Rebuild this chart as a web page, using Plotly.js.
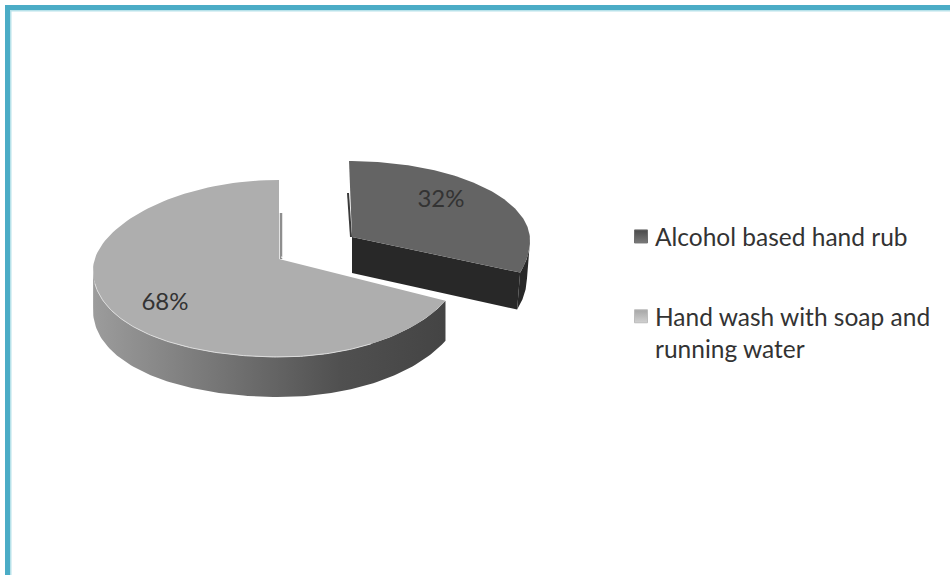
<!DOCTYPE html>
<html>
<head>
<meta charset="utf-8">
<script src="https://cdn.plot.ly/plotly-3.0.1.min.js"></script>
<style>html,body{margin:0;padding:0;background:#fff}#chart{width:950px;height:575px}</style>
</head>
<body>
<div id="chart"></div>
<script>
var categories = ["Alcohol based hand rub", "Hand wash with soap and<br>running water"];
var values = [32, 68];

var FONT = "Lato, Carlito, 'Open Sans', sans-serif";
var TEXT = "#333333";
var total = values[0] + values[1];
var sweep0 = values[0] / total * 360;

function rad(d){ return d * Math.PI / 180; }

/* projected rim of a tilted disc; g = geometry of one slice, theta clockwise from 12 o'clock */
function rim(g, theta){
  var phi = rad(theta * (g.warp || 1));
  var c = Math.cos(phi), s = Math.sin(phi);
  var y = g.cy - c * (c > 0 ? g.ryUp : g.ryDn);
  if (s < 0) y += (g.leftDrop || 0) * s * s;
  return [g.cx + (s > 0 && g.rxRight ? g.rxRight : g.rx) * s, y];
}
function arc(g, a, b){
  var pts = [], n = 120;
  for (var i = 0; i <= n; i++) pts.push(rim(g, a + (b - a) * i / n));
  return pts;
}
function shift(pts, dx, dy){ return pts.map(function(p){ return [p[0] + dx, p[1] + dy]; }); }
function poly(pts, extra){
  var t = { type: "scatter", mode: "lines", x: pts.map(function(p){return p[0];}), y: pts.map(function(p){return p[1];}),
            fill: "toself", line: { width: 0 }, hoverinfo: "skip", showlegend: false };
  for (var k in extra) t[k] = extra[k];
  return t;
}
function stroke(pts, color, w){
  return { type: "scatter", mode: "lines", x: pts.map(function(p){return p[0];}), y: pts.map(function(p){return p[1];}),
           line: { color: color, width: w }, hoverinfo: "skip", showlegend: false };
}

var big = { cx: 279, cy: 259, rx: 186, rxRight: 184, ryUp: 79, ryDn: 98, leftDrop: 11, depth: 40 };
var small = { cx: 349, cy: 240, rx: 181, ryUp: 79, ryDn: 100, warp: 109 / 115.2, apex: [352, 237], dx: -3, depth: 37 };

var bigStart = sweep0, bigEnd = 360;
var bigTop = [[big.cx, big.cy]].concat(arc(big, bigStart, bigEnd));
var bigWallRim = arc(big, bigStart, 272);
var bigWall = bigWallRim.concat(shift(bigWallRim, 0, big.depth).reverse());

var smallArc = arc(small, 0, sweep0);
var smallTop = [small.apex].concat(smallArc);
var smallEnd = rim(small, sweep0);
var smallCut = [small.apex, smallEnd, [smallEnd[0] + small.dx, smallEnd[1] + small.depth], [small.apex[0], small.apex[1] + small.depth - 1]];
var smallWallRim = arc(small, 96, sweep0);
var smallWall = smallWallRim.concat(shift(smallWallRim, small.dx, small.depth).reverse());

var bigTopPt = rim(big, 0), smallTopPt = rim(small, 0);

var traces = [
  poly(bigWall, { fillgradient: { type: "horizontal", colorscale: [[0, "#9c9c9c"], [0.35, "#767676"], [0.7, "#505050"], [1, "#444444"]] } }),
  stroke([[bigTopPt[0] + 2, bigTopPt[1] + 33], [big.cx + 2, big.cy]], "#8e8e8e", 2.5),
  poly(bigTop, { fillcolor: "#aeaeae" }),
  stroke(arc(big, 150, 262), "#dcdcdc", 1),
  stroke([[big.cx, big.cy + 1], rim(big, sweep0)].map(function(p){ return [p[0] + 2, p[1] - 3]; }), "#ffffff", 1),
  stroke([[smallTopPt[0] - 1, smallTopPt[1] + 32], [small.apex[0] - 1, small.apex[1]]], "#3a3a3a", 2),
  poly(smallWall, { fillcolor: "#282828" }),
  poly(smallCut, { fillcolor: "#282828" }),
  poly(smallTop, { fillcolor: "#646464" }),
  { type: "scatter", mode: "text", x: [441, 165], y: [201, 304], text: values.map(function(v){ return v + "%"; }),
    textposition: "middle center", textfont: { family: FONT, size: 24, color: TEXT }, hoverinfo: "skip", showlegend: false },
  { type: "scatter", mode: "markers", x: [null], y: [null], name: categories[0], legendgroup: "a", showlegend: true,
    marker: { symbol: "square", size: 13, color: "#4a4a4a", line: { color: "#6e6e6e", width: 1 }, gradient: { type: "vertical", color: "#7a7a7a" } } },
  { type: "scatter", mode: "markers", x: [null], y: [null], name: categories[1], legendgroup: "b", showlegend: true,
    marker: { symbol: "square", size: 13, color: "#a6a6a6", line: { color: "#bcbcbc", width: 1 }, gradient: { type: "vertical", color: "#d0d0d0" } } }
];

var TEAL = "#4bacc6", PALE = "#b7e2ea";
var layout = {
  width: 950, height: 575,
  margin: { l: 0, r: 0, t: 0, b: 0, pad: 0 },
  paper_bgcolor: "#ffffff", plot_bgcolor: "#ffffff",
  xaxis: { range: [0, 950], visible: false, fixedrange: true },
  yaxis: { range: [575, 0], visible: false, fixedrange: true },
  showlegend: true,
  legend: { x: 621 / 950, y: 1 - 214 / 575, xanchor: "left", yanchor: "top", bgcolor: "rgba(0,0,0,0)",
            font: { family: FONT, size: 24.5, color: TEXT }, tracegroupgap: 45, itemwidth: 30, indentation: -6,
            traceorder: "grouped", valign: "top" },
  shapes: [
    { type: "rect", xref: "x", yref: "y", x0: 10, x1: 11.5, y0: 10, y1: 575, fillcolor: PALE, line: { width: 0 } },
    { type: "rect", xref: "x", yref: "y", x0: 10, x1: 950, y0: 10, y1: 11.5, fillcolor: PALE, line: { width: 0 } },
    { type: "rect", xref: "x", yref: "y", x0: 5, x1: 10, y0: 5, y1: 575, fillcolor: TEAL, line: { width: 0 } },
    { type: "rect", xref: "x", yref: "y", x0: 5, x1: 950, y0: 5, y1: 10, fillcolor: TEAL, line: { width: 0 } }
  ]
};
Plotly.newPlot("chart", traces, layout, { displayModeBar: false, staticPlot: true }).then(function(gd){
  gd.querySelectorAll(".legend .legendsymbols").forEach(function(el){ el.setAttribute("transform", "translate(6,0)"); });
});
</script>
</body>
</html>
